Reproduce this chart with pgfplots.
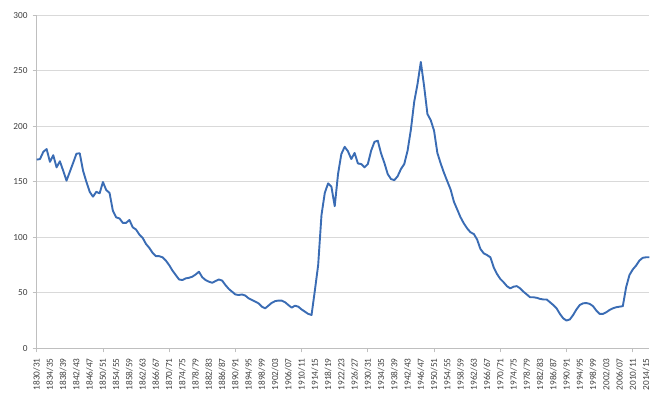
\documentclass[border=0pt]{standalone}
\usepackage{pgfplots}
\pgfplotsset{compat=1.18}
\usepackage{fontspec}
\setmainfont{Carlito}
\definecolor{linecol}{RGB}{58,108,180}
\definecolor{gridcol}{RGB}{217,217,217}
\definecolor{axcol}{RGB}{191,191,191}
\definecolor{labcol}{RGB}{64,64,64}
\begin{document}
\begin{tikzpicture}
\path[use as bounding box] (-36.7bp,-58.7bp) rectangle (634.3bp,348.3bp);
\begin{axis}[
  at={(0,0)}, anchor=south west,
  scale only axis,
  width=612.6bp, height=333bp,
  xmin=0, xmax=185, ymin=0, ymax=300,
  axis x line*=bottom, axis y line*=left,
  axis line style={draw=axcol, line width=0.8bp},
  ytick={0,50,...,300},
  ymajorgrids, grid style={draw=gridcol, line width=0.8bp},
  tick align=outside,
  major tick length=4bp,
  ytick style={draw=axcol, line width=0.8bp},
  xtick={0,4,...,184},
  xtick style={draw=none},
  xticklabels={1830/31,1834/35,1838/39,1842/43,1846/47,1850/51,1854/55,1858/59,1862/63,1866/67,1870/71,1874/75,1878/79,1882/83,1886/87,1890/91,1894/95,1898/99,1902/03,1906/07,1910/11,1914/15,1918/19,1922/23,1926/27,1930/31,1934/35,1938/39,1942/43,1946/47,1950/51,1954/55,1958/59,1962/63,1966/67,1970/71,1974/75,1978/79,1982/83,1986/87,1990/91,1994/95,1998/99,2002/03,2006/07,2010/11,2014/15},
  extra x ticks={0,20,...,180},
  extra x tick labels={},
  extra x tick style={xtick style={draw=axcol, line width=0.8bp}, grid=none},
  x tick label style={rotate=90, anchor=east, inner sep=0pt, xshift=0bp},
  xticklabel shift=6bp,
  yticklabel shift=5bp,
  y tick label style={inner sep=0pt},
  tick label style={font=\fontsize{9.3}{11}\selectfont, text=labcol},
  /pgf/number format/assume math mode=true,
  clip=false,
]
\addplot[linecol, line width=1.9bp, line join=round] coordinates {
(0,170) (1,170.5) (2,177) (3,179.5) (4,168) (5,174) (6,163) (7,168.5) (8,160) (9,151)
(10,159) (11,167) (12,175.3) (13,175.7) (14,160) (15,150) (16,141) (17,136.6) (18,141) (19,139.6)
(20,149.8) (21,142.6) (22,140) (23,124) (24,118) (25,117) (26,113) (27,113) (28,115.6) (29,109)
(30,107) (31,102.5) (32,99.5) (33,94) (34,90.5) (35,86) (36,83) (37,83) (38,82) (39,79)
(40,75) (41,70) (42,66) (43,62) (44,61.5) (45,63) (46,63.5) (47,64.5) (48,66.5) (49,69)
(50,64) (51,61.5) (52,60) (53,59) (54,60.6) (55,62) (56,61) (57,57) (58,53.5) (59,51)
(60,48.5) (61,48) (62,48.5) (63,47.5) (64,45) (65,43.5) (66,42) (67,40.5) (68,37.5) (69,36)
(70,38.5) (71,41) (72,42.5) (73,43) (74,43) (75,41.5) (76,39) (77,36.6) (78,38.4) (79,37.5)
(80,35) (81,33) (82,31) (83,30) (84,52) (85,75) (86,120) (87,140) (88,148.6) (89,145.6)
(90,128) (91,157) (92,175) (93,181.5) (94,177.5) (95,170.5) (96,176) (97,166.5) (98,166) (99,163)
(100,166) (101,178) (102,186) (103,187) (104,175.5) (105,167) (106,157) (107,152.5) (108,151.5) (109,155)
(110,161.5) (111,166) (112,178) (113,197) (114,222) (115,238) (116,258) (117,236) (118,211) (119,205.5)
(120,196) (121,176) (122,166.5) (123,158) (124,150.5) (125,143) (126,132) (127,125) (128,118) (129,112.5)
(130,108) (131,104.5) (132,103) (133,98) (134,89.5) (135,85.5) (136,84) (137,82) (138,73) (139,67)
(140,62.5) (141,59.5) (142,56) (143,54) (144,55.5) (145,56) (146,54) (147,51) (148,48.5) (149,46)
(150,46) (151,45.5) (152,44.5) (153,44) (154,44) (155,41.5) (156,39) (157,36) (158,31) (159,27)
(160,25) (161,26) (162,30) (163,35) (164,39) (165,40.5) (166,40.8) (167,40) (168,38) (169,34)
(170,31) (171,31) (172,32.5) (173,34.5) (174,36) (175,37) (176,37.5) (177,38) (178,55) (179,66)
(180,71) (181,74.5) (182,79) (183,81.5) (184,82) (185,82)
};
\end{axis}
\end{tikzpicture}
\end{document}
